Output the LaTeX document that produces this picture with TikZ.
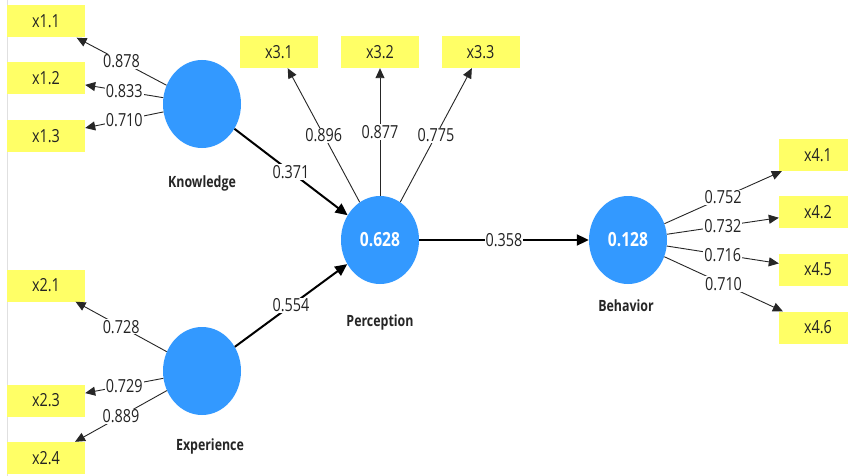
\documentclass[tikz,border=0pt]{standalone}
\usepackage{fontspec}
\setmainfont[FakeStretch=0.8]{Open Sans}
\usetikzlibrary{arrows.meta,shapes.geometric}
\definecolor{lvblue}{RGB}{51,153,255}
\definecolor{mvyellow}{RGB}{255,255,102}
\definecolor{txtgray}{RGB}{35,35,35}
\begin{document}
\begin{tikzpicture}[x=1pt,y=-1pt,
  latent/.style={ellipse,fill=lvblue,draw=none,minimum width=78pt,minimum height=88pt,inner sep=0pt,
     text=white,font=\fontsize{19.5}{21}\selectfont\bfseries},
  manifest/.style={rectangle,fill=mvyellow,draw=none,minimum width=78pt,minimum height=32pt,inner sep=0pt,
     text=txtgray,font=\fontsize{18}{20}\selectfont},
  lvname/.style={text=black!85,font=\fontsize{15.5}{17}\selectfont\bfseries},
  wlabel/.style={fill=white,inner sep=1pt,text=txtgray,font=\fontsize{18}{20}\selectfont},
  outer/.style={draw=black!85,line width=0.9pt,-{Triangle[length=10pt,width=9pt]}},
  inner/.style={draw=black,line width=2pt,-{Triangle[length=12pt,width=11pt]}}
]
\useasboundingbox (0,0) rectangle (848,476);
\fill[white] (0,0) rectangle (848,476);
\draw[black!12,line width=0.8pt] (7,0) -- (7,476);

% latent variables
\node[latent] (K) at (202,104) {};
\node[latent] (E) at (202,371) {};
\node[latent] (P) at (380,240) {0.628};
\node[latent] (B) at (628,240) {0.128};

\node[lvname] (Kn) at (202,183) {Knowledge};
\node[lvname] (En) at (210,446) {Experience};
\node[lvname] (Pn) at (380,322) {Perception};
\node[lvname] (Bn) at (626,306) {Behavior};

% indicators
\node[manifest] (x11) at (46,21.5) {x1.1};
\node[manifest] (x12) at (46,78.5) {x1.2};
\node[manifest] (x13) at (46,136) {x1.3};
\node[manifest] (x21) at (46,285.5) {x2.1};
\node[manifest] (x23) at (46,400.5) {x2.3};
\node[manifest] (x24) at (46,458) {x2.4};
\node[manifest] (x31) at (279,52) {x3.1};
\node[manifest] (x32) at (380,52) {x3.2};
\node[manifest] (x33) at (480.5,52) {x3.3};
\node[manifest] (x41) at (818,155) {x4.1};
\node[manifest] (x42) at (818,212) {x4.2};
\node[manifest] (x45) at (818,269.5) {x4.5};
\node[manifest] (x46) at (818,327.5) {x4.6};

% outer loadings
\draw[outer] (K) -- node[wlabel] {0.878} (x11);
\draw[outer] (K) -- node[wlabel] {0.833} (x12);
\draw[outer] (K) -- node[wlabel] {0.710} (x13);
\draw[outer] (E) -- node[wlabel] {0.728} (x21);
\draw[outer] (E) -- node[wlabel] {0.729} (x23);
\draw[outer] (E) -- node[wlabel] {0.889} (x24);
\draw[outer] (P) -- node[wlabel] {0.896} (x31);
\draw[outer] (P) -- node[wlabel] {0.877} (x32);
\draw[outer] (P) -- node[wlabel] {0.775} (x33);
\draw[outer] (B) -- node[wlabel] {0.752} (x41);
\draw[outer] (B) -- node[wlabel] {0.732} (x42);
\draw[outer] (B) -- node[wlabel] {0.716} (x45);
\draw[outer] (B) -- node[wlabel] {0.710} (x46);

% path coefficients
\draw[inner] (K) -- node[wlabel] {0.371} (P);
\draw[inner] (E) -- node[wlabel] {0.554} (P);
\draw[inner] (P) -- node[wlabel] {0.358} (B);
\end{tikzpicture}
\end{document}
